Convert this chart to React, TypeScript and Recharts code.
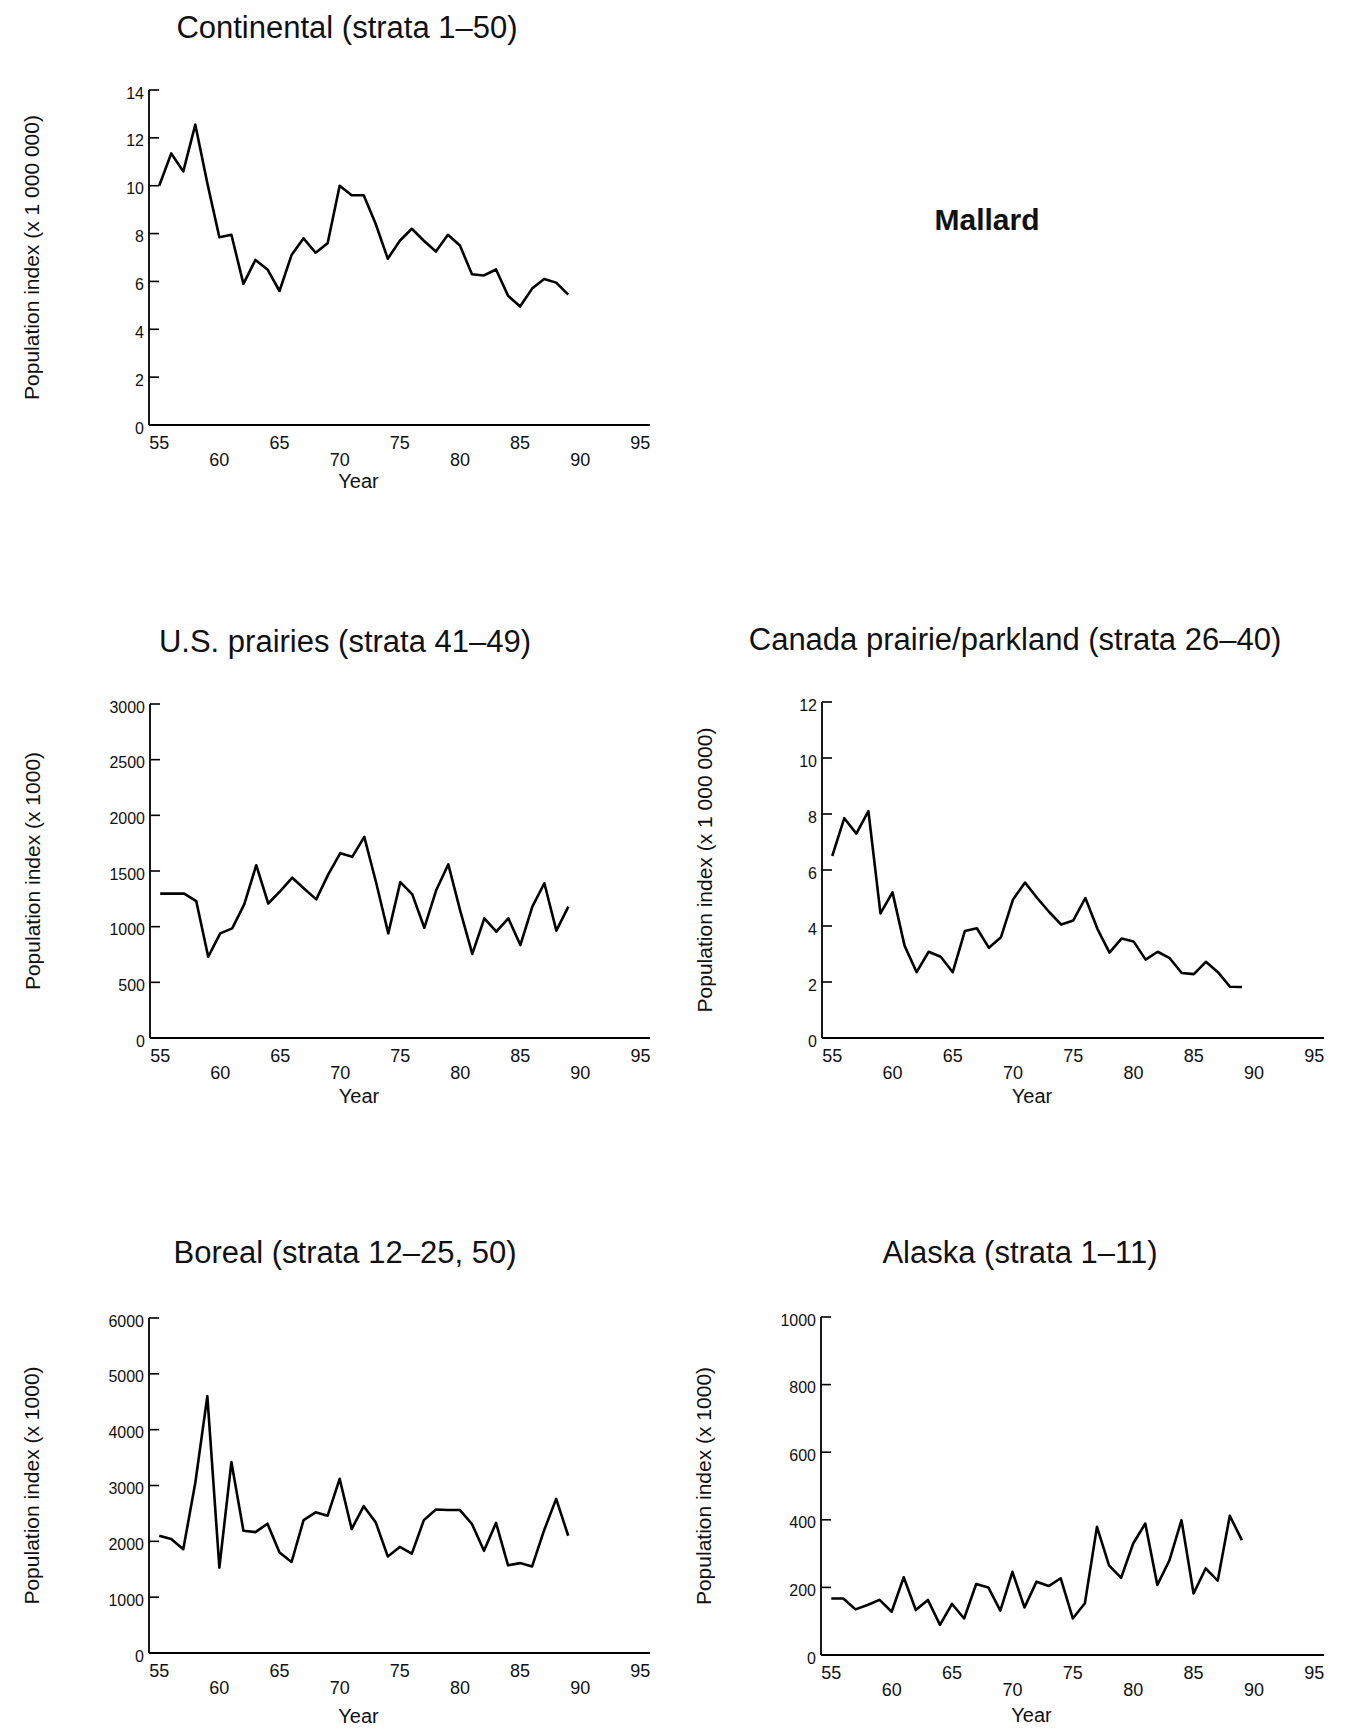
import React from 'react';
import { LineChart, Line, XAxis, YAxis } from 'recharts';

// ---- data (years 1955-1989, two-digit labels) ----
const years = [55, 56, 57, 58, 59, 60, 61, 62, 63, 64, 65, 66, 67, 68, 69, 70, 71, 72, 73, 74, 75, 76, 77, 78, 79, 80, 81, 82, 83, 84, 85, 86, 87, 88, 89];

const continental = [10.0, 11.35, 10.6, 12.55, 10.1, 7.85, 7.95, 5.9, 6.9, 6.5, 5.6, 7.1, 7.8, 7.2, 7.6, 10.0, 9.6, 9.6, 8.4, 6.95, 7.7, 8.2, 7.7, 7.25, 7.95, 7.5, 6.3, 6.25, 6.5, 5.4, 4.95, 5.7, 6.1, 5.95, 5.45];
const usPrairies = [1297, 1297, 1297, 1230, 730, 940, 985, 1200, 1552, 1208, 1320, 1440, 1340, 1245, 1470, 1660, 1627, 1807, 1390, 940, 1400, 1290, 990, 1330, 1560, 1140, 755, 1075, 955, 1075, 835, 1180, 1390, 965, 1180];
const canadaPrairie = [6.5, 7.85, 7.3, 8.1, 4.45, 5.2, 3.3, 2.35, 3.08, 2.9, 2.35, 3.82, 3.92, 3.22, 3.6, 4.95, 5.55, 5.0, 4.5, 4.05, 4.2, 5.0, 3.9, 3.05, 3.55, 3.45, 2.8, 3.08, 2.85, 2.32, 2.28, 2.72, 2.35, 1.83, 1.82];
const boreal = [2100, 2040, 1860, 3050, 4600, 1530, 3420, 2190, 2165, 2316, 1800, 1630, 2380, 2520, 2460, 3120, 2220, 2630, 2340, 1730, 1900, 1780, 2380, 2570, 2560, 2560, 2310, 1830, 2330, 1570, 1610, 1550, 2200, 2760, 2100];
const alaska = [167, 167, 135, 148, 163, 128, 230, 133, 163, 89, 151, 108, 210, 200, 131, 246, 141, 217, 204, 227, 108, 153, 379, 265, 228, 330, 389, 207, 280, 399, 182, 256, 220, 412, 340];

const xTicks = [55, 60, 65, 70, 75, 80, 85, 90, 95];
const upperRowTicks = [55, 65, 75, 85, 95];
const millionTicks14 = [0, 2, 4, 6, 8, 10, 12, 14];
const millionTicks12 = [0, 2, 4, 6, 8, 10, 12];
const usTicks = [0, 500, 1000, 1500, 2000, 2500, 3000];
const borealTicks = [0, 1000, 2000, 3000, 4000, 5000, 6000];
const alaskaTicks = [0, 200, 400, 600, 800, 1000];

const titles = [
  'Continental (strata 1\u201350)',
  'U.S. prairies (strata 41\u201349)',
  'Canada prairie/parkland (strata 26\u201340)',
  'Boreal (strata 12\u201325, 50)',
  'Alaska (strata 1\u201311)',
];
const yLabelMillion = 'Population index (x 1 000 000)';
const yLabelThousand = 'Population index (x 1000)';
const speciesName = 'Mallard';

const FONT = '"Liberation Sans", Arial, Helvetica, sans-serif';
const X_DOMAIN: [number, number] = [54.15, 95.8];

// layout of the panels (page pixel positions of the plot frame)
const panels = [
  { title: titles[0], titleX: 347, titleY: 38, yLabel: yLabelMillion, series: continental, ticks: millionTicks14, ax: 149, top: 90, right: 650, bottom: 425, yearDy: 63 },
  { title: titles[1], titleX: 345, titleY: 652, yLabel: yLabelThousand, series: usPrairies, ticks: usTicks, ax: 150, top: 704, right: 650, bottom: 1038, yearDy: 65 },
  { title: titles[2], titleX: 1015, titleY: 650, yLabel: yLabelMillion, series: canadaPrairie, ticks: millionTicks12, ax: 822, top: 702, right: 1324, bottom: 1038, yearDy: 65 },
  { title: titles[3], titleX: 345, titleY: 1263, yLabel: yLabelThousand, series: boreal, ticks: borealTicks, ax: 149, top: 1318, right: 650, bottom: 1653, yearDy: 70 },
  { title: titles[4], titleX: 1020, titleY: 1263, yLabel: yLabelThousand, series: alaska, ticks: alaskaTicks, ax: 821, top: 1317, right: 1324, bottom: 1655, yearDy: 67 },
];

const YW = 145; // y axis box width
const MT = 40; // chart top margin
const MR = 15;
const XH = 85; // x axis box height

function YTick(props: any) {
  const { y, payload } = props;
  return (
    <g>
      <line x1={YW} x2={YW + 10} y1={y} y2={y} stroke="#000" strokeWidth={1.6} />
      <text x={YW - 5} y={y + 8.5} textAnchor="end" fontFamily={FONT} fontSize={16} fill="#111">
        {payload.value}
      </text>
    </g>
  );
}

function XTick(props: any) {
  const { x, payload, axisY } = props;
  const upper = upperRowTicks.indexOf(payload.value) >= 0;
  return (
    <text x={x} y={axisY + (upper ? 24 : 41)} textAnchor="middle" fontFamily={FONT} fontSize={18} fill="#111">
      {payload.value}
    </text>
  );
}

function YLabelText(props: any) {
  const { cx, cy, text } = props;
  return (
    <text
      x={cx}
      y={cy}
      transform={`rotate(-90, ${cx}, ${cy})`}
      textAnchor="middle"
      dominantBaseline="central"
      fontFamily={FONT}
      fontSize={21}
      fill="#111"
    >
      {text}
    </text>
  );
}

function YearLabelText(props: any) {
  const { cx, by } = props;
  return (
    <text x={cx} y={by} textAnchor="middle" fontFamily={FONT} fontSize={20} fill="#111">
      Year
    </text>
  );
}

function Panel({ p }: { p: (typeof panels)[number] }) {
  const L = p.ax - YW;
  const T = p.top - MT;
  const W = p.right - L + MR;
  const H = p.bottom - T + XH;
  const data = years.map((year, i) => ({ year, value: p.series[i] }));
  const plotBottomLocal = H - XH;
  const plotCenterY = (MT + plotBottomLocal) / 2;
  const plotCenterX = (YW + (W - MR)) / 2;
  return (
    <div style={{ position: 'absolute', left: L, top: T, width: W, height: H }}>
      <LineChart width={W} height={H} data={data} margin={{ top: MT, right: MR, left: 0, bottom: 0 }}>
        <XAxis
          dataKey="year"
          type="number"
          domain={X_DOMAIN}
          allowDataOverflow
          ticks={xTicks}
          interval={0}
          height={XH}
          tickLine={false}
          tickSize={0}
          tickMargin={0}
          axisLine={{ stroke: '#000', strokeWidth: 2 }}
          tick={<XTick axisY={plotBottomLocal} />}
          label={<YearLabelText cx={plotCenterX - 41} by={plotBottomLocal + p.yearDy} />}
        />
        <YAxis
          type="number"
          domain={[0, p.ticks[p.ticks.length - 1]]}
          allowDataOverflow
          ticks={p.ticks}
          interval={0}
          width={YW}
          tickLine={false}
          tickSize={0}
          tickMargin={0}
          axisLine={{ stroke: '#000', strokeWidth: 1.8 }}
          tick={<YTick />}
          label={<YLabelText cx={YW - 118} cy={plotCenterY} text={p.yLabel} />}
        />
        <Line
          type="linear"
          dataKey="value"
          stroke="#000"
          strokeWidth={2.6}
          strokeLinejoin="round"
          dot={false}
          activeDot={false}
          isAnimationActive={false}
        />
      </LineChart>
    </div>
  );
}

export default function App() {
  return (
    <div style={{ position: 'relative', width: 1355, height: 1728, background: '#fff', overflow: 'hidden' }}>
      <style>{`body{margin:0;background:#fff;}`}</style>
      {panels.map((p, i) => (
        <Panel key={i} p={p} />
      ))}
      <svg width={1355} height={1728} style={{ position: 'absolute', left: 0, top: 0, pointerEvents: 'none' }}>
        {panels.map((p, i) => (
          <text key={i} x={p.titleX} y={p.titleY} textAnchor="middle" fontFamily={FONT} fontSize={31} fill="#111">
            {p.title}
          </text>
        ))}
        <text x={987} y={230} textAnchor="middle" fontFamily={FONT} fontSize={30} fontWeight="bold" fill="#111">
          {speciesName}
        </text>
      </svg>
    </div>
  );
}
